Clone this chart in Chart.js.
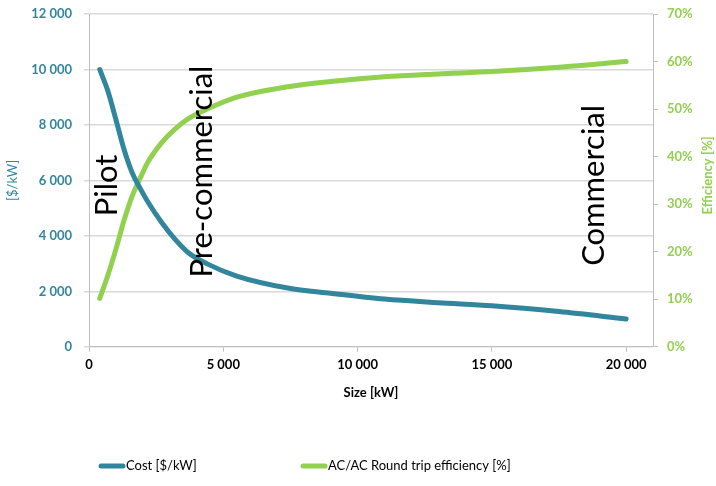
<!DOCTYPE html>
<html>
<head>
<meta charset="utf-8">
<script src="https://cdn.jsdelivr.net/npm/chart.js@4/dist/chart.umd.min.js"></script>
<style>
  html, body { margin: 0; padding: 0; background: #fff; }
  #wrap { width: 716px; height: 486px; position: relative; }
</style>
</head>
<body>
<div id="wrap"><canvas id="c"></canvas></div>
<script>
// ===== Cost vs efficiency by system size =====
const sizes      = [400, 700, 1000, 1300, 1600, 1900, 2200, 2700, 3200, 3700, 4400, 5500, 7400, 9000, 11000, 13000, 15000, 17500, 20000];
const cost       = [10000, 9230, 8200, 7130, 6290, 5720, 5210, 4490, 3880, 3390, 2990, 2550, 2120, 1930, 1720, 1590, 1480, 1270, 1000];
const efficiency = [10.2, 15, 20.5, 26.5, 31.6, 35.4, 38.9, 42.9, 45.8, 48, 50, 52.5, 54.7, 55.8, 56.8, 57.4, 57.9, 58.8, 60];
const xTicks     = [0, 5000, 10000, 15000, 20000];
const seriesNames = ['Cost [$/kW]', 'AC/AC Round trip efficiency [%]'];
const stages      = ['Pilot', 'Pre-commercial', 'Commercial'];
const stageX      = [670, 4220, 18800];
const stageY      = [5820, 6320, 5820];

const TEAL = '#31859C';
const GREEN = '#92D050';
const GRID = '#d9d9d9';
const AXIS = '#bfbfbf';
const FONT = "Lato, 'Open Sans', sans-serif";

const fmt = v => String(v).replace(/\B(?=(\d{3})+(?!\d))/g, ' ');

// stage captions, rotated, anchored in data units
const stagePlugin = {
    id: 'stages',
    afterDatasetsDraw(chart) {
        const { ctx, scales: { x, y } } = chart;
        ctx.save();
        ctx.font = '31px ' + FONT;
        ctx.fillStyle = '#000';
        ctx.textAlign = 'center';
        ctx.textBaseline = 'middle';
        stages.forEach((s, i) => {
            ctx.save();
            ctx.translate(x.getPixelForValue(stageX[i]), y.getPixelForValue(stageY[i]));
            ctx.rotate(-Math.PI / 2);
            ctx.fillText(s, 0, 0);
            ctx.restore();
        });
        ctx.restore();
    }
};

// right axis title (reads bottom-to-top) + legend row
const extrasPlugin = {
    id: 'extras',
    afterDraw(chart) {
        const { ctx, chartArea } = chart;
        ctx.save();
        ctx.font = 'bold 13px ' + FONT;
        ctx.fillStyle = GREEN;
        ctx.textAlign = 'center';
        ctx.textBaseline = 'middle';
        ctx.translate(708, (chartArea.top + chartArea.bottom) / 2 - 5);
        ctx.rotate(-Math.PI / 2);
        ctx.fillText('Efficiency [%]', 0, 0);
        ctx.restore();

        const legendX = [99, 301];
        const ly = 466;
        ctx.save();
        ctx.font = '13px ' + FONT;
        ctx.textBaseline = 'middle';
        chart.data.datasets.forEach((ds, i) => {
            ctx.strokeStyle = ds.borderColor;
            ctx.lineWidth = 5;
            ctx.lineCap = 'round';
            ctx.beginPath();
            ctx.moveTo(legendX[i] + 2, ly);
            ctx.lineTo(legendX[i] + 24, ly);
            ctx.stroke();
            ctx.fillStyle = '#000';
            ctx.fillText(ds.label, legendX[i] + 27, ly);
        });
        ctx.restore();
    }
};

// keep tick padding from pushing the plot top down
const tightY = w => s => { s.width = w; s.paddingTop = 8; s.paddingBottom = 8; };

new Chart(document.getElementById('c'), {
    type: 'line',
    data: {
        datasets: [
            {
                label: seriesNames[0],
                data: sizes.map((s, i) => ({ x: s, y: cost[i] })),
                borderColor: TEAL, backgroundColor: TEAL,
                borderWidth: 5, borderCapStyle: 'round',
                pointRadius: 0, cubicInterpolationMode: 'monotone',
                yAxisID: 'y'
            },
            {
                label: seriesNames[1],
                data: sizes.map((s, i) => ({ x: s, y: efficiency[i] })),
                borderColor: GREEN, backgroundColor: GREEN,
                borderWidth: 5, borderCapStyle: 'round',
                pointRadius: 0, cubicInterpolationMode: 'monotone',
                yAxisID: 'y2'
            }
        ]
    },
    options: {
        responsive: true,
        maintainAspectRatio: false,
        animation: false,
        layout: { padding: { top: 14, left: 0, right: 0, bottom: 0 } },
        plugins: { legend: { display: false }, tooltip: { enabled: false } },
        scales: {
            x: {
                type: 'linear', min: 0, max: 21000,
                afterBuildTicks: s => { s.ticks = xTicks.map(v => ({ value: v })); },
                grid: { drawOnChartArea: false, tickLength: 5, color: AXIS },
                border: { color: AXIS },
                ticks: { callback: v => fmt(v), color: '#000', padding: 5, maxRotation: 0,
                         font: { family: FONT, size: 13, weight: 'bold' } },
                title: { display: true, text: 'Size [kW]', color: '#000',
                         font: { family: FONT, size: 13, weight: 'bold' },
                         padding: { top: 8, bottom: 85 } }
            },
            y: {
                position: 'left', min: 0, max: 12000,
                ticks: { stepSize: 2000, callback: v => fmt(v), color: TEAL, padding: 12,
                         font: { family: FONT, size: 13, weight: 'bold' } },
                grid: { color: GRID, tickLength: 5, lineWidth: 1.5 },
                border: { color: AXIS },
                title: { display: true, text: '[$/kW]', color: TEAL,
                         font: { family: FONT, size: 13 }, padding: { top: 5, bottom: 0 } },
                afterFit: tightY(89)
            },
            y2: {
                position: 'right', min: 0, max: 70,
                ticks: { stepSize: 10, callback: v => v + '%', color: GREEN, padding: 9,
                         font: { family: FONT, size: 13, weight: 'bold' } },
                grid: { drawOnChartArea: false, tickLength: 5, color: AXIS },
                border: { color: AXIS },
                afterFit: tightY(63)
            }
        }
    },
    plugins: [stagePlugin, extrasPlugin]
});
</script>
</body>
</html>
